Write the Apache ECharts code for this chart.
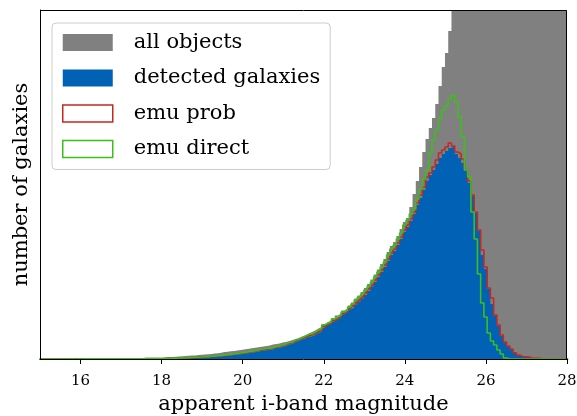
<!DOCTYPE html>
<html>
<head>
<meta charset="utf-8">
<script src="https://cdn.jsdelivr.net/npm/echarts@6/dist/echarts.min.js"></script>
<style>
  html, body { margin: 0; padding: 0; background: #ffffff; }
  #chart { width: 577px; height: 416px; }
</style>
</head>
<body>
<div id="chart"></div>
<script>
// Histogram binning in apparent i-band magnitude
const binStart = 14.99;
const binWidth = 0.08;

// Counts per bin (163 bins, 14.99 .. 28.03)
const allObjects = [
  0,0,0,0,0,1,0,1,0,1, 1,1,1,1,1,1,2,1,2,2, 2,2,3,2,3,3,3,3,4,4, 4,5,5,5,6,6,7,
  10,
  17,19,21,23,25,27,30,32,34,36,
  39,42,46,48,51,54,58,63,70,73,
  77,81,85,90,96,100,105,110,115,120,
  125,130,135,145,150,155,165,170,180,190,
  200,210,225,235,255,270,285,305,320,350,
  370,385,410,435,455,485,505,535,565,605,
  635,670,710,750,795,845,895,950,1000,1070,
  1130,1170,1230,1300,1370,1410,1520,1650,1780,1920,
  2070,2200,2310,2410,2550,2730,2920,3060,3280,
  3620,3910,4230,4540,4880,5190,5530,5840,6170,6490,
  6820,7130,7450,7760,8060,8370,8650,8940,9210,9480,
  9730,9960,10180,10390,10570,10740,10880,11000,11110,11190,
  11260,11300,11330,11340,11330,11310
];

const detectedGalaxies = [
  0,0,0,0,0,0,0,0,0,1, 0,0,1,1,1,0,1,1,1,1, 2,1,2,2,2,2,3,2,3,3, 3,3,3,3,4,4,4,
  4,4,5,5,6,6,7,8,9,10,
  11,13,14,16,18,20,22,24,26,29,
  32,35,39,43,47,51,55,60,65,70,
  78,83,87,90,95,110,113,120,130,145,
  150,170,180,195,205,220,225,240,260,270,
  310,335,350,375,395,415,445,465,495,515,
  545,575,605,640,680,725,770,820,870,920,
  980,1040,1080,1140,1200,1270,1320,1380,1450,1540,
  1610,1690,1780,1840,1890,1950,2010,2050,2080,2110,
  2130,2050,2010,1960,1880,1760,1630,1460,1280,1040,
  900,700,550,430,330,230,165,125,95,60,
  38,24,22,18,7,6,5,2,
  0,0,0,0,0,0,0,0
];

const emuProb = [
  0,0,0,0,0,0,0,0,0,0, 1,0,1,0,1,1,1,1,1,2, 1,2,2,2,2,3,2,3,3,3, 3,3,4,4,4,4,4,
  5,5,6,7,8,9,10,11,13,14,
  15,17,19,21,23,25,27,30,32,35,
  39,43,47,52,56,61,65,70,75,80,
  89,94,99,101,105,123,124,133,143,158,
  163,183,192,207,220,233,240,255,273,285,
  325,345,360,385,405,425,455,475,505,530,
  560,590,620,660,700,740,790,840,890,940,
  1000,1060,1100,1160,1220,1290,1340,1400,1470,1560,
  1640,1720,1820,1860,1920,1990,2060,2090,2120,2160,
  2130,2070,2050,2000,1890,1780,1640,1470,1290,1090,
  920,710,610,440,340,240,170,130,100,63,
  40,25,23,20,8,7,6,2,
  0,0,0,0,0,0,0,0
];

const emuDirect = [
  0,0,0,0,0,0,0,0,0,1, 0,1,0,1,1,1,1,1,2,1, 2,2,2,2,3,2,3,3,3,3, 3,3,4,4,4,4,4,
  5,6,7,8,9,10,11,12,14,15,
  17,18,20,22,24,27,29,32,35,38,
  42,46,50,55,60,65,70,75,80,85,
  95,100,105,107,112,128,131,140,150,165,
  170,190,200,215,230,245,250,270,290,300,
  340,360,370,400,420,440,470,490,520,550,
  590,620,650,690,730,770,820,870,920,970,
  1040,1100,1140,1200,1260,1340,1390,1450,1500,1600,
  1700,1800,1890,2060,2190,2290,2410,2490,2530,2600,
  2640,2570,2420,2220,1890,1820,1470,1200,850,560,
  420,260,180,140,90,50,10,
  0,0,0,0,0,0,0,0,0,0, 0,0,0,0,0,0,0,0,0
];

const xTickValues = [16, 18, 20, 22, 24, 26, 28];
const seriesNames = ['all objects', 'detected galaxies', 'emu prob', 'emu direct'];

const X_MIN = 15;
const X_MAX = 28;
const Y_MAX = 3490;

const COLORS = {
  all: '#808080',
  detected: '#0061b5',
  prob: '#c4281f',
  direct: '#3cbf1c'
};
const FONT_FAMILY = '"DejaVu Serif", "Liberation Serif", serif';
const TICK_FONT_SIZE = 15;
const TICK_LABEL_GAP = 15;

// Turn per-bin counts into step-line vertices: each bin's left edge, plus the final right edge.
function histSteps(counts) {
  const pts = counts.map((c, k) => [binStart + k * binWidth, c]);
  pts.push([binStart + counts.length * binWidth, counts[counts.length - 1]]);
  return pts;
}

function filledHist(name, counts, color) {
  return {
    name: name,
    type: 'line',
    step: 'end',
    symbol: 'none',
    clip: true,
    color: color,
    lineStyle: { width: 0, color: color },
    areaStyle: { color: color, opacity: 1 },
    data: histSteps(counts)
  };
}

function outlineHist(name, counts, color) {
  return {
    name: name,
    type: 'line',
    step: 'end',
    symbol: 'none',
    clip: true,
    color: color,
    lineStyle: { width: 1.6, color: color },
    data: histSteps(counts)
  };
}

const chart = echarts.init(document.getElementById('chart'), null, { renderer: 'canvas' });

chart.setOption({
  animation: false,
  backgroundColor: '#ffffff',
  grid: { left: 40, right: 10, top: 10, bottom: 57, containLabel: false, outerBoundsMode: 'none' },
  legend: {
    orient: 'vertical',
    left: 52,
    top: 23,
    padding: [9, 10, 10, 10],
    itemWidth: 50,
    itemHeight: 17,
    itemGap: 14.5,
    icon: 'rect',
    selectedMode: false,
    backgroundColor: 'rgba(255,255,255,0.85)',
    borderColor: '#cccccc',
    borderWidth: 1,
    borderRadius: 4,
    textStyle: { fontFamily: FONT_FAMILY, fontSize: 21, color: '#000', padding: [0, 0, 0, 16] },
    data: [
      { name: seriesNames[0], itemStyle: { color: COLORS.all, borderWidth: 0 } },
      { name: seriesNames[1], itemStyle: { color: COLORS.detected, borderWidth: 0 } },
      { name: seriesNames[2], itemStyle: { color: 'rgba(255,255,255,0)', borderColor: COLORS.prob, borderWidth: 1.5 } },
      { name: seriesNames[3], itemStyle: { color: 'rgba(255,255,255,0)', borderColor: COLORS.direct, borderWidth: 1.5 } }
    ]
  },
  xAxis: {
    type: 'value',
    min: X_MIN,
    max: X_MAX,
    position: 'bottom',
    name: 'apparent i-band magnitude',
    nameLocation: 'middle',
    nameGap: 35,
    nameTextStyle: { fontFamily: FONT_FAMILY, fontSize: 21, color: '#000' },
    axisLine: { show: true, onZero: false, lineStyle: { color: '#000', width: 1 } },
    axisTick: { show: true, length: 5, customValues: xTickValues, lineStyle: { color: '#000', width: 1 } },
    axisLabel: { show: false, showMinLabel: false, showMaxLabel: false },
    splitLine: { show: false },
    z: 10
  },
  yAxis: {
    type: 'value',
    min: 0,
    max: Y_MAX,
    position: 'left',
    name: 'number of galaxies',
    nameLocation: 'middle',
    nameGap: 8,
    nameTextStyle: { fontFamily: FONT_FAMILY, fontSize: 21, color: '#000' },
    axisLine: { show: true, onZero: false, lineStyle: { color: '#000', width: 1 } },
    axisTick: { show: false },
    axisLabel: { show: false },
    splitLine: { show: false },
    z: 10
  },
  series: [
    filledHist(seriesNames[0], allObjects, COLORS.all),
    filledHist(seriesNames[1], detectedGalaxies, COLORS.detected),
    outlineHist(seriesNames[2], emuProb, COLORS.prob),
    outlineHist(seriesNames[3], emuDirect, COLORS.direct)
  ]
});

// Frame corners and tick label positions come from the axis scales.
const [xLeft, yBottom] = chart.convertToPixel({ gridIndex: 0 }, [X_MIN, 0]);
const [xRight, yTop] = chart.convertToPixel({ gridIndex: 0 }, [X_MAX, Y_MAX]);
const xFirstTick = chart.convertToPixel({ xAxisIndex: 0 }, xTickValues[0]);

// Keep the strip under the axis start clear, so the first label shown is the first tick's.
const startStrip = {
  type: 'rect',
  z: 30,
  silent: true,
  shape: { x: xLeft - 12, y: yBottom + 6, width: (xFirstTick - xLeft) - 12 + 12, height: 24 },
  style: { fill: '#ffffff' }
};

const tickLabels = xTickValues.map((v) => ({
  type: 'text',
  x: chart.convertToPixel({ xAxisIndex: 0 }, v),
  y: yBottom + TICK_LABEL_GAP,
  z: 40,
  silent: true,
  style: {
    text: String(v),
    fill: '#000',
    fontFamily: FONT_FAMILY,
    fontSize: TICK_FONT_SIZE,
    align: 'center',
    verticalAlign: 'top'
  }
}));

// Top and right edges of the plot frame, drawn above the filled histograms.
const frame = {
  type: 'polyline',
  z: 20,
  silent: true,
  shape: { points: [[Math.round(xLeft) + 0.5, Math.round(yTop) + 0.5], [Math.round(xRight) - 0.5, Math.round(yTop) + 0.5], [Math.round(xRight) - 0.5, Math.round(yBottom) + 0.5]] },
  style: { stroke: '#000', lineWidth: 1, fill: null }
};

chart.setOption({ graphic: [startStrip].concat(tickLabels, [frame]) });
</script>
</body>
</html>
